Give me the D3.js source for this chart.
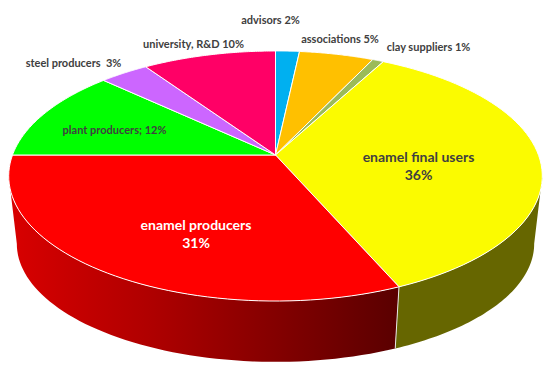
<!DOCTYPE html>
<html>
<head>
<meta charset="utf-8">
<script src="https://cdn.jsdelivr.net/npm/d3@7"></script>
<style>
html,body{margin:0;padding:0;background:#fff}
svg{display:block}
text{font-family:Lato,"Open Sans",sans-serif;font-weight:700;fill:#404040}
</style>
</head>
<body>
<svg id="c" width="550" height="374"></svg>
<script>
const categories = ["advisors","associations","clay suppliers","enamel final users","enamel producers","plant producers","steel producers","university, R&D"];
const shares     = [1.7, 5.3, 0.8, 35.7, 31.5, 12, 3.5, 9.5];
const tickLabels = ["advisors 2%","associations 5%","clay suppliers 1%","enamel final users|36%","enamel producers|31%","plant producers; 12%","steel producers  3%","university, R&D 10%"];
const colors     = ["#00b0f0","#ffc000","#9bbb59","#fbfb00","#ff0000","#00ff00","#cc66ff","#ff0066"];

const W = 550, H = 374;
const svg = d3.select("#c");

// perspective projection of the unit disc
const tilt = 0.168;
const topDisc = {cx:275.5, cy:155, bx:263, ay:121.5};
const botDisc = {cx:275.5, cy:224, bx:255, ay:114.7};
const project = (d, a) => {
  const u = Math.sin(a), v = -Math.cos(a), w = 1 - tilt*v;
  return [d.cx + d.bx*u/w, d.cy + d.ay*v/w];
};
const steps = (a0,a1) => d3.range(0,61).map(i => a0+(a1-a0)*i/60);
const line = d3.line();

const pie = d3.pie().sort(null).value(d=>d)(shares);

// side wall limits: where the rim silhouette turns
const sideA = Math.PI - Math.acos(tilt);
const sideB = 2*Math.PI - sideA;

const defs = svg.append("defs");
const grad = defs.append("linearGradient").attr("id","redSide")
  .attr("gradientUnits","userSpaceOnUse").attr("x1",12).attr("x2",398).attr("y1",0).attr("y2",0);
[[0,"#d80000"],[0.35,"#b00000"],[0.68,"#840000"],[1,"#5a0000"]].forEach(s=>grad.append("stop").attr("offset",s[0]).attr("stop-color",s[1]));

const sideFill = {"#fbfb00":"#666600","#ff0000":"url(#redSide)"};

// side walls
pie.forEach((s,i)=>{
  const a0 = Math.max(s.startAngle, sideA), a1 = Math.min(s.endAngle, sideB);
  if (a1 <= a0) return;
  const pts = steps(a0,a1).map(a=>project(topDisc,a))
    .concat(steps(a1,a0).map(a=>project(botDisc,a)));
  svg.append("path").attr("d",line(pts)+"Z").attr("fill",sideFill[colors[i]]||colors[i]);
});
// seam between the two visible walls
{
  const a = pie[3].endAngle;
  svg.append("path").attr("d",line([project(topDisc,a),project(botDisc,a)]))
    .attr("stroke","#e8e8e8").attr("stroke-width",1).attr("fill","none");
}
// top slices
pie.forEach((s,i)=>{
  const pts = [[topDisc.cx,topDisc.cy]].concat(steps(s.startAngle,s.endAngle).map(a=>project(topDisc,a)));
  svg.append("path").attr("d",line(pts)+"Z").attr("fill",colors[i])
    .attr("stroke","#fff").attr("stroke-width",1).attr("stroke-linejoin","round");
});

// labels
const labelPos = [
 {x:270.5,y:24,s:11},{x:340,y:43,s:11},{x:428.5,y:51,s:11},
 {x:418.5,y:162,s:14,l:18},{x:196,y:230,s:14,l:18,c:"#fff"},
 {x:114.5,y:134,s:11},{x:73.5,y:67,s:11},{x:193.5,y:48,s:11}
];
tickLabels.forEach((t,i)=>{
  const p = labelPos[i];
  const el = svg.append("text").attr("text-anchor","middle").attr("font-size",p.s).attr("y",p.y)
    .attr("xml:space","preserve").style("white-space","pre");
  if (p.c) el.style("fill",p.c);
  t.split("|").forEach((part,k)=>{
    el.append("tspan").attr("x",p.x).attr("dy",k?p.l:0).text(part);
  });
});
</script>
</body>
</html>
